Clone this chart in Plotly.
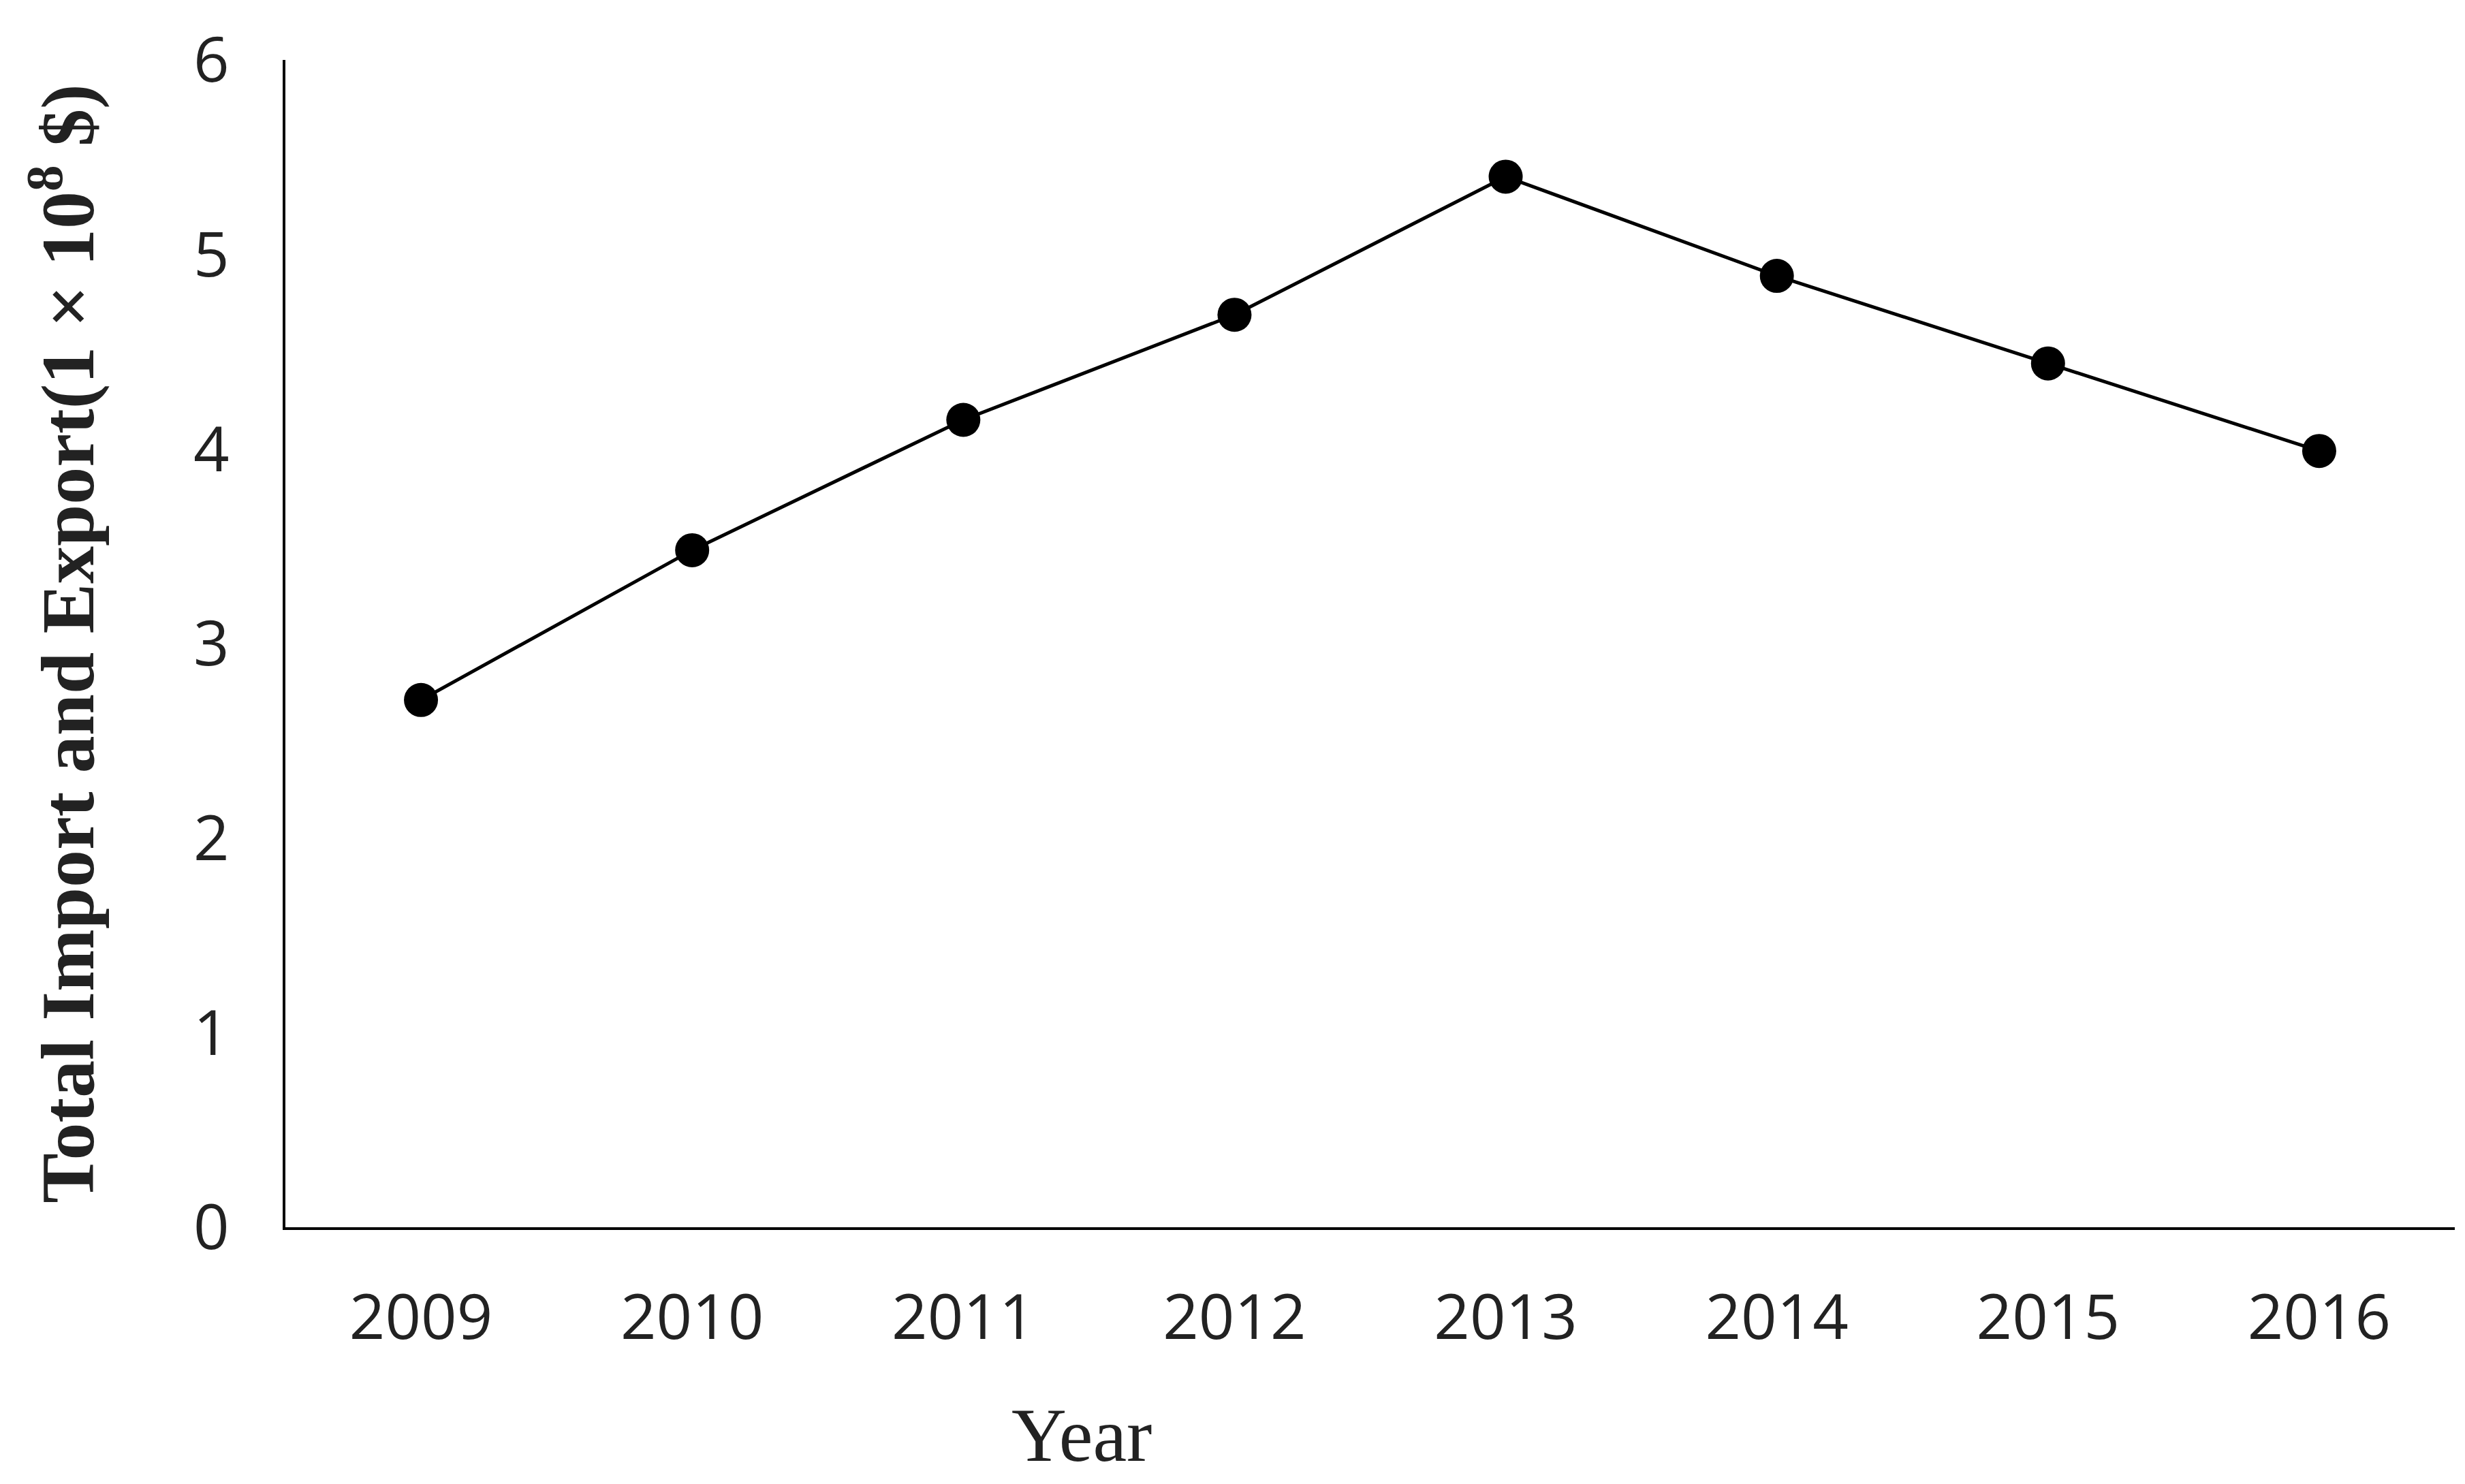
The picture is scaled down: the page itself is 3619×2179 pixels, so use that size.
import plotly.graph_objects as go

years = ["2009", "2010", "2011", "2012", "2013", "2014", "2015", "2016"]
values = [2.71, 3.48, 4.15, 4.69, 5.40, 4.89, 4.44, 3.99]
y_ticks = [0, 1, 2, 3, 4, 5, 6]

fig = go.Figure(go.Scatter(
    x=years, y=values, mode="lines+markers",
    line=dict(color="black", width=5),
    marker=dict(color="black", size=50),
))
fig.update_layout(
    width=3619, height=2179, plot_bgcolor="white", paper_bgcolor="white",
    margin=dict(l=411, r=23, t=80, b=385), showlegend=False,
    annotations=[dict(text="Year", xref="paper", yref="paper", x=0.367, y=-0.178,
                      xanchor="center", yanchor="middle", showarrow=False,
                      font=dict(family="Liberation Serif", size=112, color="#222"))],
)
fig.update_xaxes(
    type="category", range=[-0.5, 7.5], showline=True, linecolor="black", linewidth=4,
    showgrid=False, ticks="", tickfont=dict(family="Open Sans", size=92, color="#222"),
    ticklabelstandoff=50,
)
fig.update_yaxes(
    range=[0, 6], tickvals=y_ticks, showline=True, linecolor="black", linewidth=4,
    showgrid=False, ticks="", zeroline=False,
    tickfont=dict(family="Open Sans", size=92, color="#222"), ticklabelstandoff=60,
    title=dict(text="<b>Total Import and Export(1 × 10<sup>8</sup> $)</b>",
               font=dict(family="Liberation Serif", size=110, color="#222"), standoff=110),
)
fig.write_html("out.html")
